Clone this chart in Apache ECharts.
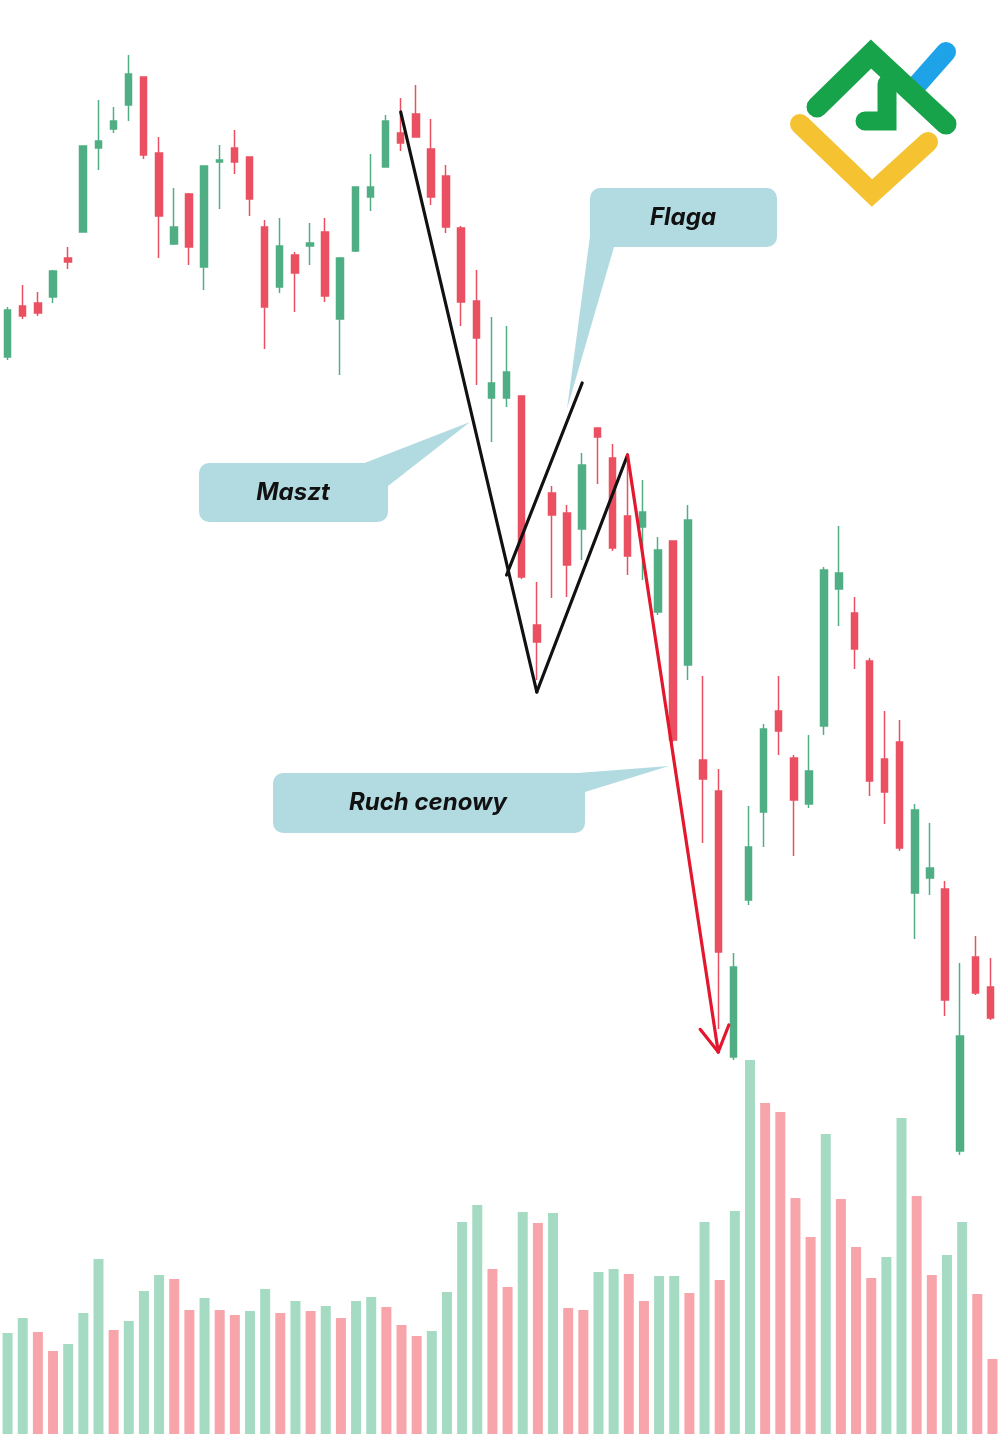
<!DOCTYPE html>
<html><head><meta charset="utf-8">
<script src="https://cdn.jsdelivr.net/npm/echarts@6.0.0/dist/echarts.min.js"></script>
<style>html,body{margin:0;padding:0;background:#fff}#c{width:1000px;height:1434px}</style>
</head><body><div id="c"></div>
<script>
// ---- data ----
const categories = Array.from({length: 66}, (_, i) => 'D' + (i + 1));
const opens = [114.3,119.4,119.7,120.3,124.2,126.8,135.2,137.1,139.5,142.3,
  134.7,125.6,130.6,123.3,133.8,135.2,134.3,127.3,121.3,124.5,
  125.4,126.8,118.1,124.9,130.3,133.3,136.7,138.6,135.1,132.4,
  127.2,119.9,110.2,110.2,110.4,87.5,100.7,98.7,97.1,107.2,
  104.2,98.4,97.3,88.8,95.9,83.5,74.0,70.9,44.3,60.0,
  68.8,78.9,74.2,69.6,77.4,91.1,88.7,83.9,74.1,75.8,
  60.7,62.2,61.1,34.9,54.3,51.3];
const closes = [119.0,118.4,118.7,122.9,123.8,135.4,135.9,137.9,142.6,134.5,
  128.4,127.3,125.3,133.4,134.0,133.8,130.1,119.3,125.4,122.7,
  125.7,120.4,124.2,131.3,131.3,137.9,135.7,136.3,130.3,127.3,
  119.8,116.2,111.7,112.8,92.3,85.8,98.5,93.5,103.5,106.3,
  95.2,94.4,98.8,95.0,76.0,98.0,72.1,54.8,53.3,65.3,
  77.1,76.9,70.0,72.9,93.0,92.7,85.1,71.9,70.8,65.2,
  69.0,63.2,50.0,46.4,50.7,48.2];
const lows = [114.0,118.1,118.4,119.7,123.1,126.8,133.0,136.7,137.9,134.1,
  124.2,125.5,123.5,121.0,129.1,132.6,128.4,115.1,120.7,118.8,
  123.5,119.8,112.5,124.8,128.9,133.3,134.9,136.3,129.5,126.7,
  117.4,111.5,105.8,109.3,92.1,82.0,90.2,90.3,94.0,101.6,
  94.9,92.5,92.0,88.5,75.8,82.0,65.7,47.1,44.0,59.5,
  65.3,74.5,64.4,69.2,76.5,87.4,83.1,70.4,67.6,64.9,
  56.1,60.5,48.4,34.5,50.5,48.0];
const highs = [119.3,121.5,120.8,123.0,125.3,135.4,140.0,139.3,144.5,142.3,
  136.3,131.2,130.7,133.4,135.5,137.0,134.3,128.0,128.2,124.8,
  127.7,128.2,124.3,131.3,134.6,138.5,140.2,141.5,138.1,133.5,
  127.4,123.0,118.3,117.4,110.4,91.8,101.4,99.5,104.7,107.2,
  105.6,104.3,102.0,96.3,95.9,99.5,82.4,73.1,54.7,69.4,
  77.6,82.4,74.5,76.5,93.3,97.4,90.3,84.2,78.9,78.0,
  69.6,67.7,61.9,53.7,56.4,54.2];
const volumes = [10.1,11.6,10.2,8.3,9.0,12.1,17.5,10.4,11.3,14.3,
  15.9,15.5,12.4,13.6,12.4,11.9,12.3,14.5,12.1,13.3,
  12.3,12.8,11.6,13.3,13.7,12.7,10.9,9.8,10.3,14.2,
  21.2,22.9,16.5,14.7,22.2,21.1,22.1,12.6,12.4,16.2,
  16.5,16.0,13.3,15.8,15.8,14.1,21.2,15.4,22.3,37.4,
  33.1,32.2,23.6,19.7,30.0,23.5,18.7,15.6,17.7,31.6,
  23.8,15.9,17.9,21.2,14.0,7.5];
const volSide = [1,1,-1,-1,1,1,1,-1,1,1,
  1,-1,-1,1,-1,-1,1,1,-1,1,
  -1,1,-1,1,1,-1,-1,-1,1,1,
  1,1,-1,-1,1,-1,1,-1,-1,1,
  1,-1,-1,1,1,-1,1,-1,1,1,
  -1,-1,-1,-1,1,-1,-1,-1,1,1,
  -1,-1,1,1,-1,-1];
// annotation segments: [startIndex, startPrice, endIndex, endPrice, isArrow]
const mastLine = [26, 138.8, 35, 80.8, 0];
const flagLowerLine = [35, 80.8, 41, 104.5, 0];
const flagUpperLine = [33, 92.5, 38, 111.7, 0];
const moveArrow = [41, 104.5, 46.9, 44.8, 1];
const labels = ['Flaga', 'Maszt', 'Ruch cenowy'];

// ---- styles ----
const UP = '#4fae84', DOWN = '#eb5062';
const VOL_UP = '#a6dbc3', VOL_DOWN = '#f7a5ab';
const BOX = '#b2dbe1';

const candleData = opens.map((o, i) => [o, closes[i], lows[i], highs[i]]);
const volData = volumes.map((v, i) => ({value: v, itemStyle: {color: volSide[i] > 0 ? VOL_UP : VOL_DOWN}}));

const hiddenX = (gi) => ({type: 'category', data: categories, gridIndex: gi, boundaryGap: true,
  axisLine: {show: false}, axisTick: {show: false}, axisLabel: {show: false}, splitLine: {show: false}});
const hiddenY = (gi, min, max) => ({type: 'value', gridIndex: gi, min: min, max: max,
  axisLine: {show: false}, axisTick: {show: false}, axisLabel: {show: false}, splitLine: {show: false}});

const chart = echarts.init(document.getElementById('c'), null, {renderer: 'canvas'});
const textStyleBase = {fill: '#111', font: 'italic bold 24px Inter, Roboto, sans-serif', textAlign: 'center', textVerticalAlign: 'middle'};

chart.setOption({
  animation: false,
  backgroundColor: '#ffffff',
  grid: [
    {left: -3, right: 2, top: 0, bottom: 0},
    {left: -1, right: 0, top: 0, bottom: 0}
  ],
  xAxis: [hiddenX(0), hiddenX(1)],
  yAxis: [hiddenY(0, 6.6, 150), hiddenY(1, 0, 143.4)],
  series: [
    {type: 'bar', xAxisIndex: 1, yAxisIndex: 1, data: volData, barWidth: 10, z: 1},
    {type: 'candlestick', xAxisIndex: 0, yAxisIndex: 0, data: candleData, barWidth: 7, z: 2,
      itemStyle: {color: UP, color0: DOWN, borderColor: UP, borderColor0: DOWN, borderWidth: 1.5}},
    {type: 'custom', xAxisIndex: 0, yAxisIndex: 0, z: 5, clip: false,
      encode: {x: [0, 2], y: [1, 3]},
      data: [mastLine, flagLowerLine, flagUpperLine, moveArrow],
      renderItem: function (params, api) {
        const p1 = api.coord([api.value(0), api.value(1)]);
        const p2 = api.coord([api.value(2), api.value(3)]);
        const isArrow = api.value(4) === 1;
        const color = isArrow ? '#e3182e' : '#111111';
        const st = {stroke: color, lineWidth: 3.2, lineCap: 'round'};
        const children = [{type: 'line', shape: {x1: p1[0], y1: p1[1], x2: p2[0], y2: p2[1]}, style: st}];
        if (isArrow) {
          const ang = Math.atan2(p2[1] - p1[1], p2[0] - p1[0]);
          const L = 29, spread = Math.PI / 6;
          [ang + Math.PI - spread, ang + Math.PI + spread].forEach(a => {
            children.push({type: 'line', shape: {x1: p2[0], y1: p2[1], x2: p2[0] + L * Math.cos(a), y2: p2[1] + L * Math.sin(a)}, style: st});
          });
        }
        return {type: 'group', children: children};
      }
    }
  ],
  graphic: [
    // Flaga callout
    {type: 'polygon', shape: {points: [[590, 236], [614, 247], [567, 409]]}, style: {fill: BOX}, z: 10},
    {type: 'rect', shape: {x: 590, y: 188, width: 187, height: 59, r: 10}, style: {fill: BOX}, z: 10},
    {type: 'text', x: 683, y: 218, style: Object.assign({text: labels[0]}, textStyleBase), z: 11},
    // Maszt callout
    {type: 'polygon', shape: {points: [[362, 464], [388, 486], [470, 422]]}, style: {fill: BOX}, z: 10},
    {type: 'rect', shape: {x: 199, y: 463, width: 189, height: 59, r: 10}, style: {fill: BOX}, z: 10},
    {type: 'text', x: 293, y: 493, style: Object.assign({text: labels[1]}, textStyleBase), z: 11},
    // Ruch cenowy callout
    {type: 'polygon', shape: {points: [[565, 774], [585, 792], [669, 766]]}, style: {fill: BOX}, z: 10},
    {type: 'rect', shape: {x: 273, y: 773, width: 312, height: 60, r: 10}, style: {fill: BOX}, z: 10},
    {type: 'text', x: 428, y: 803, style: Object.assign({text: labels[2]}, textStyleBase), z: 11},
    // logo
    {type: 'polyline', shape: {points: [[916, 86], [946, 52]]}, style: {stroke: '#1ea3e8', lineWidth: 20, lineCap: 'round', fill: null}, z: 20},
    {type: 'polyline', shape: {points: [[817, 107], [871, 54], [946, 124]]}, style: {stroke: '#16a34a', lineWidth: 21, lineCap: 'round', lineJoin: 'miter', fill: null}, z: 21},
    {type: 'polyline', shape: {points: [[865, 121], [887, 121], [887, 84]]}, style: {stroke: '#16a34a', lineWidth: 19, lineCap: 'round', lineJoin: 'miter', fill: null}, z: 21},
    {type: 'polyline', shape: {points: [[800, 124], [872, 193], [928, 142]]}, style: {stroke: '#f5c332', lineWidth: 20, lineCap: 'round', lineJoin: 'miter', fill: null}, z: 22}
  ]
});
</script>
</body></html>
